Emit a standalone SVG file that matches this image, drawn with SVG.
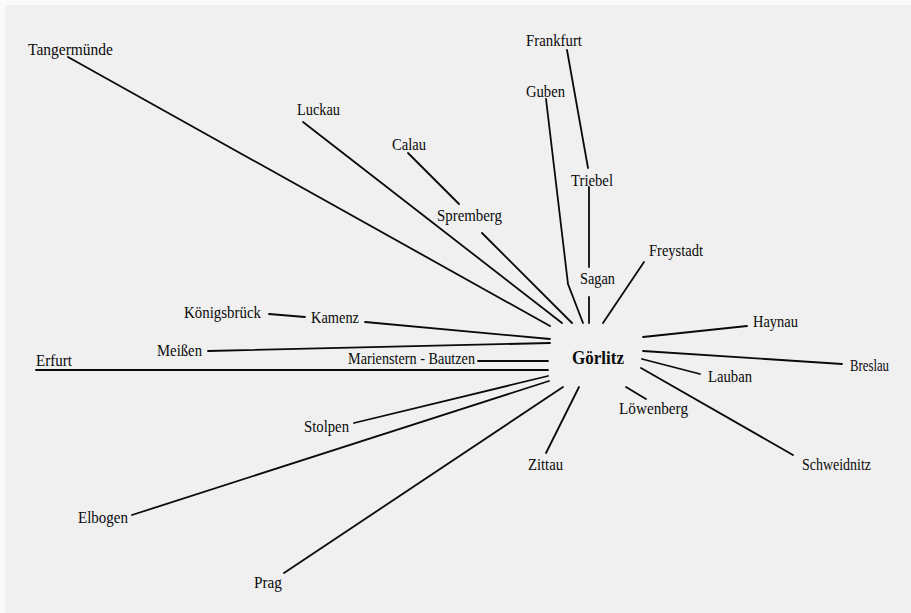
<svg xmlns="http://www.w3.org/2000/svg" width="911" height="613" viewBox="0 0 911 613">
<style>
.bg{fill:#f0f0f0}
.lbl{font-family:"Liberation Serif","Times New Roman",serif;font-size:16.5px;fill:#0a0a0a}
.hub{font-family:"Liberation Serif","Times New Roman",serif;font-size:19px;font-weight:bold;fill:#0a0a0a}
.c{stroke:#0a0a0a;stroke-width:1.8;fill:none;stroke-linecap:round}
</style>
<rect width="911" height="613" fill="#fbfbfb"/>
<rect class="bg" x="5" y="5" width="906" height="608"/>
<g id="connectors">
<line class="c" x1="68" y1="57" x2="550" y2="326"/>
<line class="c" x1="303" y1="122" x2="562" y2="323"/>
<line class="c" x1="408" y1="153" x2="459" y2="204"/>
<line class="c" x1="482" y1="233" x2="572" y2="323"/>
<polyline class="c" points="546,99 568,284 583,323"/>
<line class="c" x1="567" y1="50" x2="588" y2="168"/>
<line class="c" x1="589" y1="187" x2="589" y2="267"/>
<line class="c" x1="589" y1="297" x2="589" y2="323"/>
<line class="c" x1="644" y1="262" x2="603" y2="323"/>
<line class="c" x1="269" y1="314" x2="305" y2="317"/>
<line class="c" x1="365" y1="322" x2="550" y2="339"/>
<line class="c" x1="208" y1="351" x2="550" y2="343"/>
<line class="c" x1="478" y1="361" x2="548" y2="361"/>
<line class="c" x1="36" y1="370" x2="548" y2="370"/>
<line class="c" x1="354" y1="423" x2="548" y2="376"/>
<line class="c" x1="132" y1="515" x2="549" y2="381"/>
<line class="c" x1="284" y1="573" x2="563" y2="387"/>
<line class="c" x1="546" y1="453" x2="579" y2="387"/>
<line class="c" x1="626" y1="387" x2="646" y2="399"/>
<line class="c" x1="643" y1="337" x2="747" y2="326"/>
<line class="c" x1="643" y1="351" x2="842" y2="364"/>
<line class="c" x1="642" y1="359" x2="700" y2="374"/>
<line class="c" x1="641" y1="368" x2="793" y2="455"/>
</g>
<g id="goerlitz"><text class="hub" x="572" y="364" textLength="52" lengthAdjust="spacingAndGlyphs">Görlitz</text></g>
<g id="tangermuende"><text class="lbl" x="28" y="55" textLength="85" lengthAdjust="spacingAndGlyphs">Tangermünde</text></g>
<g id="luckau"><text class="lbl" x="297" y="115" textLength="43" lengthAdjust="spacingAndGlyphs">Luckau</text></g>
<g id="calau"><text class="lbl" x="392" y="150" textLength="34" lengthAdjust="spacingAndGlyphs">Calau</text></g>
<g id="spremberg"><text class="lbl" x="437" y="221" textLength="65" lengthAdjust="spacingAndGlyphs">Spremberg</text></g>
<g id="frankfurt"><text class="lbl" x="526" y="46" textLength="56" lengthAdjust="spacingAndGlyphs">Frankfurt</text></g>
<g id="guben"><text class="lbl" x="526" y="97" textLength="39" lengthAdjust="spacingAndGlyphs">Guben</text></g>
<g id="triebel"><text class="lbl" x="571" y="186" textLength="42" lengthAdjust="spacingAndGlyphs">Triebel</text></g>
<g id="sagan"><text class="lbl" x="580" y="284" textLength="35" lengthAdjust="spacingAndGlyphs">Sagan</text></g>
<g id="freystadt"><text class="lbl" x="649" y="256" textLength="54" lengthAdjust="spacingAndGlyphs">Freystadt</text></g>
<g id="koenigsbrueck"><text class="lbl" x="184" y="318" textLength="77" lengthAdjust="spacingAndGlyphs">Königsbrück</text></g>
<g id="kamenz"><text class="lbl" x="311" y="323" textLength="48" lengthAdjust="spacingAndGlyphs">Kamenz</text></g>
<g id="meissen"><text class="lbl" x="157" y="356" textLength="45" lengthAdjust="spacingAndGlyphs">Meißen</text></g>
<g id="erfurt"><text class="lbl" x="36" y="366" textLength="36" lengthAdjust="spacingAndGlyphs">Erfurt</text></g>
<g id="marienstern-bautzen"><text class="lbl" x="348" y="364" textLength="127" lengthAdjust="spacingAndGlyphs">Marienstern - Bautzen</text></g>
<g id="stolpen"><text class="lbl" x="304" y="432" textLength="45" lengthAdjust="spacingAndGlyphs">Stolpen</text></g>
<g id="elbogen"><text class="lbl" x="78" y="523" textLength="50" lengthAdjust="spacingAndGlyphs">Elbogen</text></g>
<g id="prag"><text class="lbl" x="254" y="588" textLength="28" lengthAdjust="spacingAndGlyphs">Prag</text></g>
<g id="zittau"><text class="lbl" x="528" y="470" textLength="35" lengthAdjust="spacingAndGlyphs">Zittau</text></g>
<g id="loewenberg"><text class="lbl" x="619" y="414" textLength="69" lengthAdjust="spacingAndGlyphs">Löwenberg</text></g>
<g id="haynau"><text class="lbl" x="753" y="327" textLength="45" lengthAdjust="spacingAndGlyphs">Haynau</text></g>
<g id="breslau"><text class="lbl" x="850" y="371" textLength="39" lengthAdjust="spacingAndGlyphs">Breslau</text></g>
<g id="lauban"><text class="lbl" x="708" y="382" textLength="44" lengthAdjust="spacingAndGlyphs">Lauban</text></g>
<g id="schweidnitz"><text class="lbl" x="802" y="470" textLength="69" lengthAdjust="spacingAndGlyphs">Schweidnitz</text></g>
</svg>
